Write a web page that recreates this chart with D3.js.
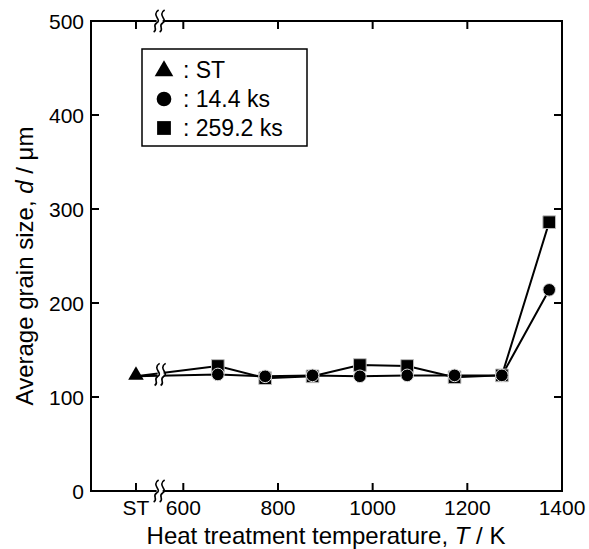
<!DOCTYPE html>
<html>
<head>
<meta charset="utf-8">
<script src="https://cdn.jsdelivr.net/npm/d3@7"></script>
<style>
  body { margin: 0; background: #fff; }
  svg { font-family: Arial, "Liberation Sans", sans-serif; }
</style>
</head>
<body>
<svg id="chart"></svg>
<script>
// 1) Data -----------------------------------------------------------
const temps = [673, 773, 873, 973, 1073, 1173, 1273, 1373];
const stValue = 122;
const d144 = [124, 122, 123, 122, 123, 123, 123, 214];
const d2592 = [133, 120, 122, 134, 133, 121, 123, 286];
const xTicks = [600, 800, 1000, 1200, 1400];
const yTicks = [0, 100, 200, 300, 400, 500];
const legendLabels = [': ST', ': 14.4 ks', ': 259.2 ks'];
const stPos = 500; // position on the broken axis where ST is drawn

// 2) Dimensions -----------------------------------------------------
const width = 589, height = 549;
const margin = { left: 91, right: 27, top: 21, bottom: 58 };
const svg = d3.select('#chart').attr('width', width).attr('height', height);

const x = d3.scaleLinear().domain([405, 1400]).range([margin.left, width - margin.right]);
const y = d3.scaleLinear().domain([0, 500]).range([height - margin.bottom, margin.top]);

const x0 = x.range()[0], x1 = x.range()[1];
const y0 = y.range()[0], y1 = y.range()[1];
const breakX = x(550);

// 3) Axes (ticks inside) --------------------------------------------
const tickLen = 8;
const g = svg.append('g').attr('stroke', '#000').attr('stroke-width', 2);

// ticks
[stPos, ...xTicks].forEach(t => {
  g.append('line').attr('x1', x(t)).attr('x2', x(t)).attr('y1', y0).attr('y2', y0 - tickLen);
  g.append('line').attr('x1', x(t)).attr('x2', x(t)).attr('y1', y1).attr('y2', y1 + tickLen);
});
yTicks.forEach(t => {
  g.append('line').attr('x1', x0).attr('x2', x0 + tickLen).attr('y1', y(t)).attr('y2', y(t));
  g.append('line').attr('x1', x1).attr('x2', x1 - tickLen).attr('y1', y(t)).attr('y2', y(t));
});

// frame
g.append('rect').attr('x', x0).attr('y', y1).attr('width', x1 - x0).attr('height', y0 - y1)
  .attr('fill', 'none');

// tick labels
svg.selectAll('.xl').data([stPos, ...xTicks]).enter().append('text')
  .attr('x', d => x(d)).attr('y', y0 + 24)
  .attr('text-anchor', 'middle').attr('font-size', 21)
  .text(d => d === stPos ? 'ST' : d);
svg.selectAll('.yl').data(yTicks).enter().append('text')
  .attr('x', x0 - 7).attr('y', d => y(d) + 7.5)
  .attr('text-anchor', 'end').attr('font-size', 21)
  .text(d => d);

// axis titles
svg.append('text').attr('x', 326).attr('y', 544)
  .attr('text-anchor', 'middle').attr('font-size', 24)
  .html('Heat treatment temperature, <tspan font-style="italic">T</tspan> / K');
svg.append('text').attr('transform', `translate(33,${(y0 + y1) / 2 + 10}) rotate(-90)`)
  .attr('text-anchor', 'middle').attr('font-size', 24)
  .html('Average grain size, <tspan font-style="italic">d</tspan> / \u03bcm');

// 4) Break symbol ---------------------------------------------------
function breakMark(cx, cy) {
  const b = svg.append('g').attr('transform', `translate(${cx},${cy})`);
  b.append('rect').attr('x', -3).attr('y', -11).attr('width', 6).attr('height', 22).attr('fill', '#fff');
  [-3, 3].forEach(dx => {
    b.append('path')
      .attr('d', `M${dx + 2},-11 C${dx - 6},-6 ${dx + 6},-1 ${dx},2 C${dx - 5},5 ${dx + 2},8 ${dx - 3},11`)
      .attr('fill', 'none').attr('stroke', '#000').attr('stroke-width', 1.6);
  });
}

// 5) Lines ----------------------------------------------------------
const line = d3.line().x(d => x(d[0])).y(d => y(d[1]));
const s2592 = [[stPos, stValue], ...temps.map((t, i) => [t, d2592[i]])];
const s144 = [[stPos, stValue], ...temps.map((t, i) => [t, d144[i]])];
[s2592, s144].forEach(s => {
  svg.append('path').datum(s).attr('d', line)
    .attr('fill', 'none').attr('stroke', '#000').attr('stroke-width', 2);
});

breakMark(breakX, y1);
breakMark(breakX, y0);
breakMark(breakX + 1, y(stValue + 2));

// 6) Markers --------------------------------------------------------
const sq = d3.symbol().type(d3.symbolSquare).size(160);
const ci = d3.symbol().type(d3.symbolCircle).size(125);
const tr = d3.symbol().type(d3.symbolTriangle).size(105);

svg.selectAll('.sq').data(temps.map((t, i) => [t, d2592[i]])).enter().append('path')
  .attr('d', sq).attr('transform', d => `translate(${x(d[0])},${y(d[1])})`)
  .attr('fill', '#000').attr('stroke', '#bbb').attr('stroke-width', 1);
svg.selectAll('.ci').data(temps.map((t, i) => [t, d144[i]])).enter().append('path')
  .attr('d', ci).attr('transform', d => `translate(${x(d[0])},${y(d[1])})`)
  .attr('fill', '#000').attr('stroke', '#ddd').attr('stroke-width', 1);
svg.append('path').attr('d', tr)
  .attr('transform', `translate(${x(stPos)},${y(stValue) - 1})`)
  .attr('fill', '#000');

// 7) Legend ---------------------------------------------------------
const lgSq = d3.symbol().type(d3.symbolSquare).size(190);
const lgCi = d3.symbol().type(d3.symbolCircle).size(170);
const lgTr = d3.symbol().type(d3.symbolTriangle).size(150);
const lg = svg.append('g');
lg.append('rect').attr('x', 142).attr('y', 49).attr('width', 165).attr('height', 97)
  .attr('fill', '#fff').attr('stroke', '#000').attr('stroke-width', 1.5);
const legendSym = [lgTr, lgCi, lgSq];
legendLabels.forEach((lab, i) => {
  const cy = 70 + i * 29;
  lg.append('path').attr('d', legendSym[i]).attr('transform', `translate(164,${cy + (i === 0 ? 1 : 0)})`).attr('fill', '#000');
  lg.append('text').attr('x', 183).attr('y', cy + 8).attr('font-size', 23).text(lab);
});
</script>
</body>
</html>
